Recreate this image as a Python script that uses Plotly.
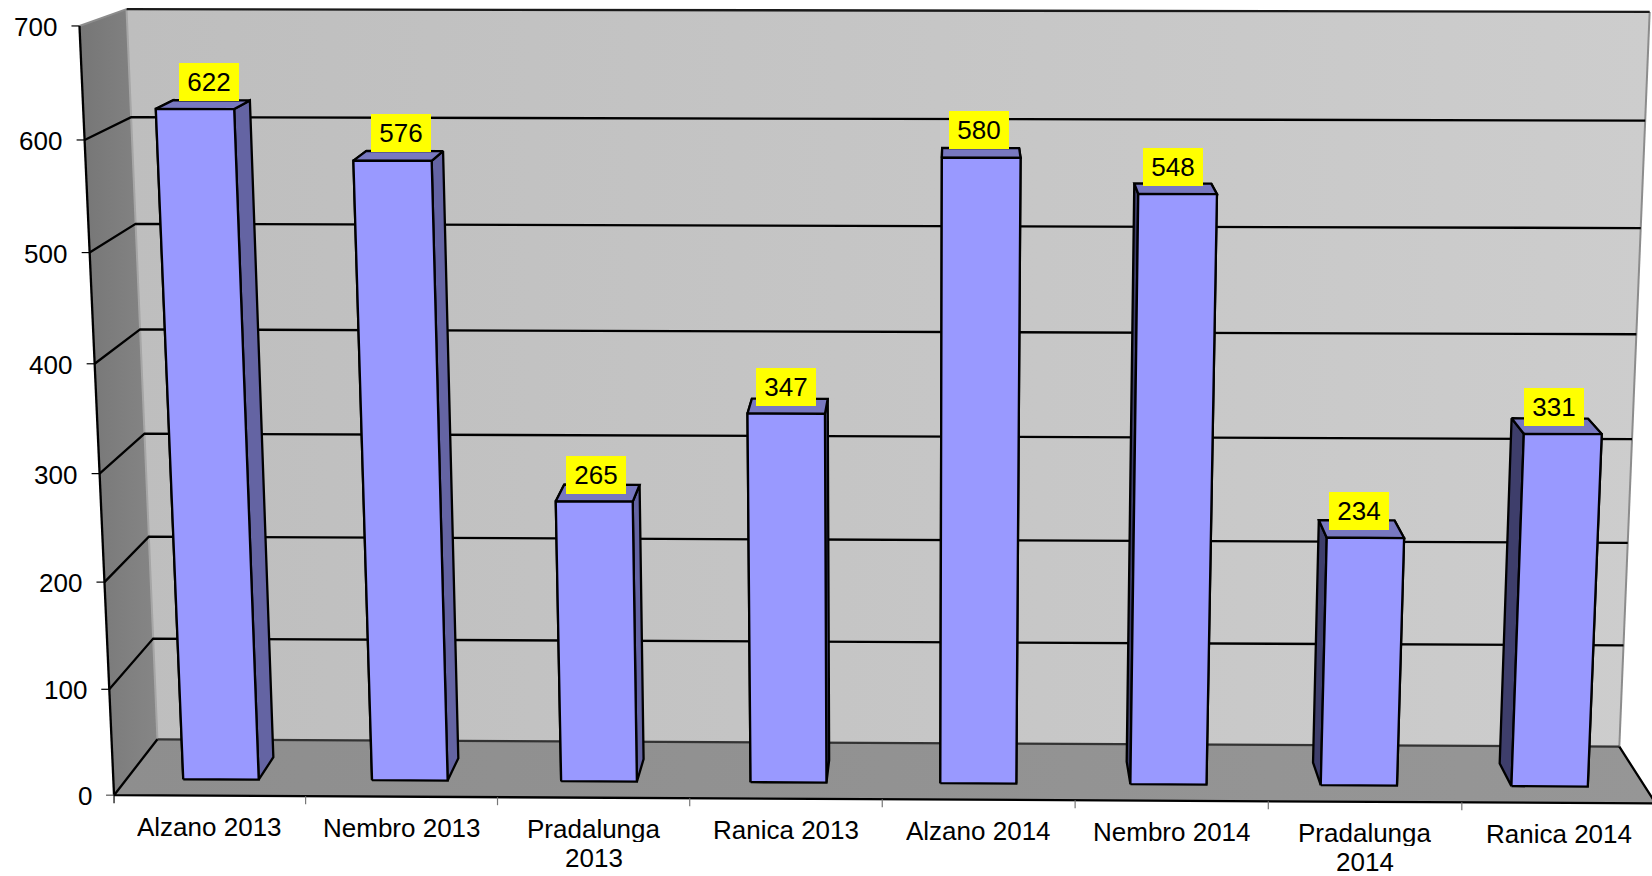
import numpy as np
import plotly.graph_objects as go

categories = ["Alzano 2013", "Nembro 2013", "Pradalunga<br>2013", "Ranica 2013",
              "Alzano 2014", "Nembro 2014", "Pradalunga<br>2014", "Ranica 2014"]
values = [622, 576, 265, 347, 580, 548, 234, 331]
value_ticks = [0, 100, 200, 300, 400, 500, 600, 700]

W, H = 1652, 876
VMAX = value_ticks[-1]
N = len(categories)

# Perspective of the chart box: (category, depth, value) -> page position.
BOX = [((0, 0, 0), (114.5, 795.5)), ((N, 0, 0), (1656, 803)),
       ((0, 1, 0), (157, 739)), ((N, 1, 0), (1619, 747)),
       ((0, 0, VMAX), (79, 25)), ((N, 0, VMAX), (1689, 30)),
       ((0, 1, VMAX), (127, 10)), ((N, 1, VMAX), (1650, 11))]


def fit_projection(pairs):
    rows = []
    for (c, d, v), (x, y) in pairs:
        p = [c / N, d, v / VMAX, 1]
        rows.append(p + [0, 0, 0, 0] + [-x * q for q in p])
        rows.append([0, 0, 0, 0] + p + [-y * q for q in p])
    return np.linalg.svd(np.array(rows))[2][-1].reshape(3, 4)


M = fit_projection(BOX)


def pr(c, d, v):
    r = M @ np.array([c / N, d, v / VMAX, 1.0])
    return r[0] / r[2], r[1] / r[2]


fig = go.Figure()
LW = 2.3


def poly(corners, fill=None, line="black", width=LW, gradient=None, closed=True):
    pts = [pr(*c) for c in corners]
    if closed:
        pts.append(pts[0])
    kw = dict(x=[p[0] for p in pts], y=[p[1] for p in pts], mode="lines",
              line=dict(color=line, width=width), hoverinfo="skip", showlegend=False)
    if width == 0:
        kw["mode"] = "none"
        kw.pop("line")
    if gradient:
        kw.update(fill="toself", fillgradient=dict(type="horizontal", colorscale=gradient))
    elif fill:
        kw.update(fill="toself", fillcolor=fill)
    fig.add_trace(go.Scatter(**kw))


# walls and floor
poly([(0, 1, 0), (N, 1, 0), (N, 1, VMAX), (0, 1, VMAX)], width=0,
     gradient=[[0, "#BEBEBE"], [1, "#CDCDCD"]])
poly([(0, 0, 0), (0, 1, 0), (0, 1, VMAX), (0, 0, VMAX)], width=0,
     gradient=[[0, "#767676"], [1, "#868686"]])
poly([(0, 0, 0), (N, 0, 0), (N, 1, 0), (0, 1, 0)], width=0,
     gradient=[[0, "#8E8E8E"], [1, "#969696"]])

# wall edges
poly([(0, 1, 0), (0, 1, VMAX)], line="#A6A6A6", width=2, closed=False)
poly([(N, 1, 0), (N, 1, VMAX)], line="#8C8C8C", width=2, closed=False)
poly([(0, 0, VMAX), (0, 1, VMAX)], line="#8C8C8C", width=2, closed=False)
poly([(0, 1, VMAX), (N, 1, VMAX)], line="#1A1A1A", closed=False)

# gridlines
for v in value_ticks[1:-1]:
    poly([(0, 0, v), (0, 1, v), (N, 1, v)], closed=False)

# floor outline and the wall's front edge
poly([(0, 1, 0), (N, 1, 0)], line="#333333", closed=False)
poly([(0, 1, 0), (0, 0, 0), (N, 0, 0), (N, 1, 0)], closed=False)
poly([(0, 0, 0), (0, 0, VMAX)], closed=False)

# ticks
for v in value_ticks:
    x, y = pr(0, 0, v)
    fig.add_shape(type="line", x0=x - 8, x1=x, y0=y, y1=y, xref="x", yref="y",
                  line=dict(color="#555555" if v in (0,) else "black", width=1.2))
for i in range(N + 1):
    x, y = pr(i, 0, 0)
    fig.add_shape(type="line", x0=x, x1=x, y0=y, y1=y + 8, xref="x", yref="y",
                  line=dict(color="black" if i == 0 else "#777777", width=1.2))

# bars
D0, D1 = 0.28, 0.68
GAP = 0.3
for i, v in enumerate(values):
    a, b = i + GAP, i + 1 - GAP
    poly([(a, D0, 0), (a, D1, 0), (a, D1, v), (a, D0, v)], fill="#3E3E6B")
    poly([(b, D0, 0), (b, D1, 0), (b, D1, v), (b, D0, v)], fill="#6464A3")
    poly([(a, D0, v), (b, D0, v), (b, D1, v), (a, D1, v)], fill="#7878C0")
    poly([(a, D0, 0), (b, D0, 0), (b, D0, v), (a, D0, v)], fill="#9999FF")

FONT = dict(family="Liberation Sans, Arial, sans-serif", size=26, color="black")

for v in value_ticks:
    x, y = pr(0, 0, v)
    fig.add_annotation(x=x - 20.5, y=y + 1, text=str(v), showarrow=False, xanchor="right",
                       yanchor="middle", font=FONT, xref="x", yref="y")

for i, name in enumerate(categories):
    x, y = pr(i + 0.5, 0, 0)
    for k, part in enumerate(name.split("<br>")):
        fig.add_annotation(x=x, y=y + 31.5 + 29 * k, text=part, showarrow=False, xanchor="center",
                           yanchor="middle", font=FONT, xref="x", yref="y", height=26)

for i, v in enumerate(values):
    x, y = pr(i + 0.5, (D0 + D1) / 2, v)
    lx = x - 2 + 8 * max(0, (593 - x) / 400)
    ly = y - 21 + 3.2 - 5.2 * (v - values[6]) / (values[0] - values[6])
    fig.add_annotation(x=lx, y=ly, text=str(v), showarrow=False, xanchor="center",
                       yanchor="middle", font=FONT, xref="x", yref="y",
                       bgcolor="#FFFF00", width=60, height=38, borderpad=0, borderwidth=0)

fig.update_layout(
    width=W, height=H, margin=dict(l=0, r=0, t=0, b=0), showlegend=False,
    paper_bgcolor="white", plot_bgcolor="white",
    xaxis=dict(range=[0, W], visible=False, fixedrange=True),
    yaxis=dict(range=[H, 0], visible=False, fixedrange=True),
)
fig.write_html("out.html", config=dict(displayModeBar=False),
               post_script="document.body.style.margin='0';document.body.style.overflow='hidden';")
